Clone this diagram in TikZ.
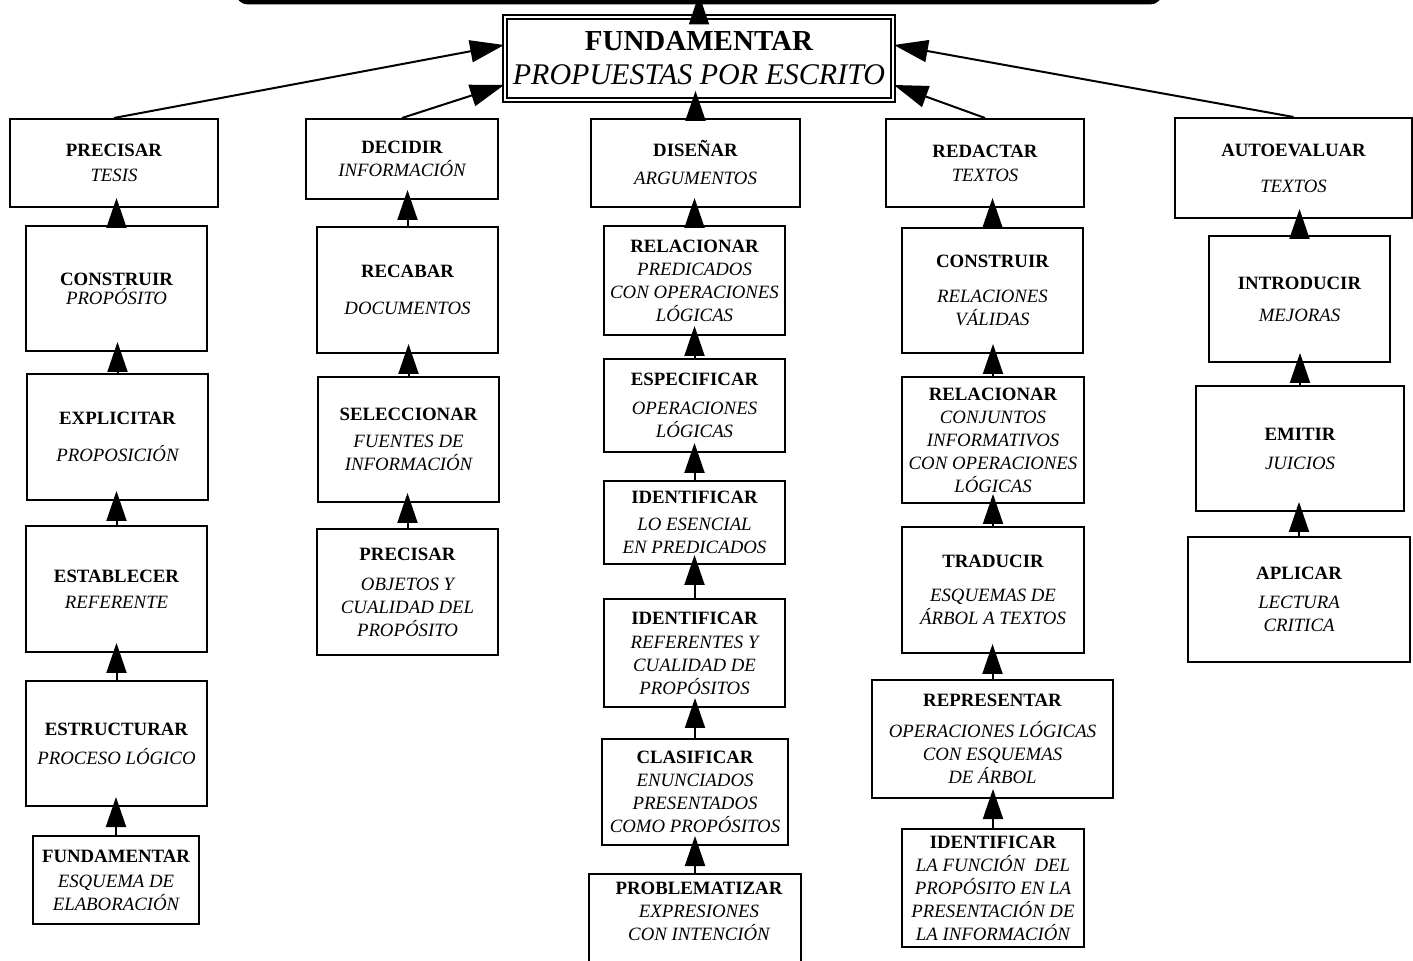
\documentclass[tikz,border=0pt]{standalone}
\usepackage{fontspec}
\setmainfont{Liberation Serif}
\usepackage{tikz}
\usetikzlibrary{shapes,arrows.meta,positioning,calc}
\newcommand{\tit}[1]{{\upshape\bfseries #1}}

\tikzset{
  box/.style={draw, line width=1pt, align=center, inner sep=1pt,
    font=\fontsize{9.4}{11.5}\selectfont\itshape},
  arr/.style={line width=1pt, -{Triangle[length=17pt,width=11pt]}},
  lift/.style={line width=1pt, -{Triangle[length=15pt,width=10pt]}, shorten >=-5pt}
}

\begin{document}
\begin{tikzpicture}[x=0.5pt,y=-0.5pt]
\clip (0,0) rectangle (1413,961);

% goal and main task
\node[draw, line width=2.5pt, rounded corners=5pt, minimum width=461pt, minimum height=50pt] (goal) at (699,-48) {};
\node[draw, double, double distance=1pt, line width=0.9pt, align=center, minimum width=194pt, minimum height=41.5pt,
  font=\fontsize{15}{17}\selectfont\itshape] (main) at (699,58.5)
  {{\fontsize{14.5}{17}\selectfont\tit{FUNDAMENTAR}}\\PROPUESTAS POR ESCRITO};

% column 1
\node[box, minimum width=104pt, minimum height=44pt] (p1) at (114,163) {\tit{PRECISAR}\\[1pt]TESIS};
\node[box, minimum width=90.5pt, minimum height=62.5pt] (c1) at (116.5,288.5) {\tit{CONSTRUIR}\\[-2pt]PROPÓSITO};
\node[box, minimum width=90.5pt, minimum height=63pt] (e1) at (117.5,437) {\tit{EXPLICITAR}\\[7pt]PROPOSICIÓN};
\node[box, minimum width=90.5pt, minimum height=63pt] (s1) at (116.5,589) {\tit{ESTABLECER}\\[1.5pt]REFERENTE};
\node[box, minimum width=90.5pt, minimum height=62.5pt] (t1) at (116.5,743.5) {\tit{ESTRUCTURAR}\\[3pt]PROCESO LÓGICO};
\node[box, minimum width=83pt, minimum height=44pt] (f1) at (116,880) {\tit{FUNDAMENTAR}\\[1pt]ESQUEMA DE\\ELABORACIÓN};

% column 2
\node[box, minimum width=96pt, minimum height=40pt] (d2) at (402,159) {\tit{DECIDIR}\\INFORMACIÓN};
\node[box, minimum width=90.5pt, minimum height=63pt] (r2) at (407.5,290) {\tit{RECABAR}\\[7pt]DOCUMENTOS};
\node[box, minimum width=90.5pt, minimum height=62.5pt] (s2) at (408.5,439.5) {\tit{SELECCIONAR}\\[2pt]FUENTES DE\\INFORMACIÓN};
\node[box, minimum width=90.5pt, minimum height=63pt] (p2) at (407.5,592) {\tit{PRECISAR}\\[3.5pt]OBJETOS Y\\CUALIDAD DEL\\PROPÓSITO};

% column 3
\node[box, minimum width=104.5pt, minimum height=44pt] (d3) at (695.5,163) {\tit{DISEÑAR}\\[2.5pt]ARGUMENTOS};
\node[box, minimum width=90.5pt, minimum height=54.5pt] (r3) at (694.5,280.5) {\tit{RELACIONAR}\\PREDICADOS\\CON OPERACIONES\\LÓGICAS};
\node[box, minimum width=90.5pt, minimum height=46.5pt] (e3) at (694.5,405.5) {\tit{ESPECIFICAR}\\[3pt]OPERACIONES\\LÓGICAS};
\node[box, minimum width=90.5pt, minimum height=41.5pt] (i3) at (694.5,522.5) {\tit{IDENTIFICAR}\\[2pt]LO ESENCIAL\\EN PREDICADOS};
\node[box, minimum width=90.5pt, minimum height=54pt] (j3) at (694.5,653) {\tit{IDENTIFICAR}\\[0.5pt]REFERENTES Y\\CUALIDAD DE\\PROPÓSITOS};
\node[box, minimum width=93pt, minimum height=53pt] (k3) at (695,792) {\tit{CLASIFICAR}\\ENUNCIADOS\\PRESENTADOS\\COMO PROPÓSITOS};
\node[box, minimum width=106pt, minimum height=60pt, anchor=north,
  label={[box, draw=none, name=q3t, anchor=north, yshift=-3pt, xshift=2pt]north:{\tit{PROBLEMATIZAR}\\EXPRESIONES\\CON INTENCIÓN}}] (q3) at (695,873) {};

% column 4
\node[box, minimum width=99pt, minimum height=44pt] (r4) at (985,163) {\tit{REDACTAR}\\[0.5pt]TEXTOS};
\node[box, minimum width=90.5pt, minimum height=62.5pt] (c4) at (992.5,290.5) {\tit{CONSTRUIR}\\[6pt]RELACIONES\\VÁLIDAS};
\node[box, minimum width=91pt, minimum height=63pt] (l4) at (993,440) {\tit{RELACIONAR}\\CONJUNTOS\\INFORMATIVOS\\CON OPERACIONES\\LÓGICAS};
\node[box, minimum width=91pt, minimum height=63pt] (t4) at (993,590) {\tit{TRADUCIR}\\[5.5pt]ESQUEMAS DE\\ÁRBOL A TEXTOS};
\node[box, minimum width=120.5pt, minimum height=59pt] (p4) at (992.5,739) {\tit{REPRESENTAR}\\[4pt]OPERACIONES LÓGICAS\\CON ESQUEMAS\\DE ÁRBOL};
\node[box, minimum width=91pt, minimum height=59pt] (i4) at (993,888) {\tit{IDENTIFICAR}\\LA FUNCIÓN~ DEL\\PROPÓSITO EN LA\\PRESENTACIÓN DE\\LA INFORMACIÓN};

% column 5
\node[box, minimum width=118.5pt, minimum height=50pt] (a5) at (1293.5,168) {\tit{AUTOEVALUAR}\\[6.5pt]TEXTOS};
\node[box, minimum width=90.5pt, minimum height=63pt] (n5) at (1299.5,299) {\tit{INTRODUCIR}\\[4.5pt]MEJORAS};
\node[box, minimum width=104pt, minimum height=62.5pt] (m5) at (1300,448.5) {\tit{EMITIR}\\[3pt]JUICIOS};
\node[box, minimum width=111pt, minimum height=62.5pt] (ap5) at (1299,599.5) {\tit{APLICAR}\\[3pt]LECTURA\\CRITICA};

% arrows to the main task
\draw[lift] (main.north) -- (main.north |- goal.south);
\draw[arr] (p1.north) -- ([yshift=6.75pt]main.west);
\draw[arr] (d2.north) -- ([yshift=-13.25pt]main.west);
\draw[lift] (d3.north) -- (d3.north |- main.south);
\draw[arr] (r4.north) -- ([yshift=-13.25pt]main.east);
\draw[arr] (a5.north) -- ([yshift=6.75pt]main.east);

% arrows inside the columns
\foreach \lo/\hi in {c1/p1,e1/c1,s1/e1,t1/s1,f1/t1,
                     r2/d2,s2/r2,p2/s2,
                     r3/d3,e3/r3,i3/e3,j3/i3,k3/j3,q3/k3,
                     c4/r4,l4/c4,t4/l4,p4/t4,i4/p4,
                     n5/a5,m5/n5,ap5/m5}
  \draw[lift] (\lo.north) -- (\lo.north |- \hi.south);
\end{tikzpicture}
\end{document}
